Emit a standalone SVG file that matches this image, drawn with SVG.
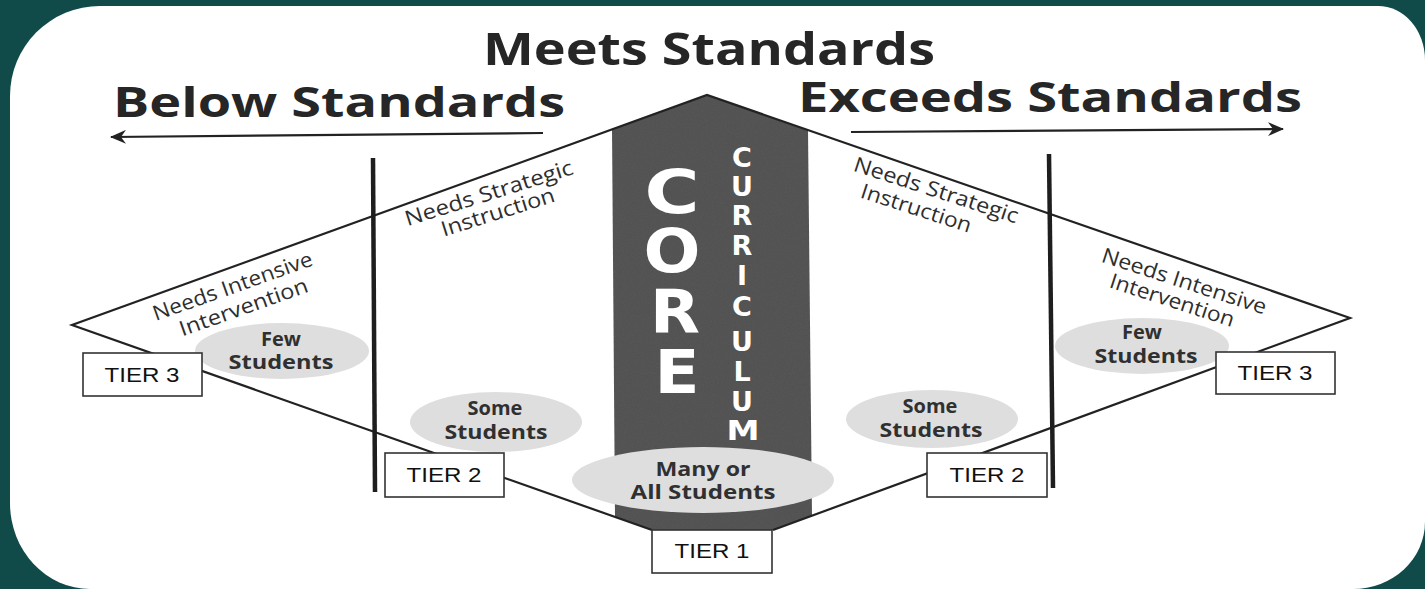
<svg xmlns="http://www.w3.org/2000/svg" width="1425" height="589" viewBox="0 0 1425 589">
<style>
.head{font-family:"Open Sans","Liberation Sans",sans-serif;font-weight:700;fill:#262626;text-anchor:middle}
.lbl{font-family:"Open Sans","Liberation Sans",sans-serif;font-size:21px;fill:#2e2e2e;text-anchor:middle}
.ell{fill:#dedede}
.etxt{font-family:"Open Sans","Liberation Sans",sans-serif;font-weight:700;font-size:20px;fill:#303030;text-anchor:middle}
.tier rect{fill:#fff;stroke:#333;stroke-width:1.6}
.tier text{font-family:"Liberation Sans","Open Sans",sans-serif;font-size:21px;fill:#111;text-anchor:middle}
.ln{stroke:#222;stroke-width:2.2;fill:none}
.vl{stroke:#1e1e1e;stroke-width:4.5;fill:none}
.core{font-family:"DejaVu Sans","Open Sans",sans-serif;font-weight:700;fill:#fff;text-anchor:middle}
</style>
<defs>
<marker id="ah" markerWidth="16" markerHeight="14" refX="15" refY="7" orient="auto" markerUnits="userSpaceOnUse" viewBox="0 0 16 14">
<path d="M0,0 L16,7 L0,14 L5,7 Z" fill="#222"/>
</marker>
<filter id="grain" x="0" y="0" width="100%" height="100%">
<feTurbulence type="fractalNoise" baseFrequency="0.9" numOctaves="2" seed="3" result="n"/>
<feColorMatrix in="n" type="matrix" values="0 0 0 0 0.5  0 0 0 0 0.5  0 0 0 0 0.5  0 0 0 0.35 0" result="g"/>
<feComposite in="g" in2="SourceGraphic" operator="in" result="gm"/>
<feBlend in="SourceGraphic" in2="gm" mode="multiply"/>
</filter>
</defs>
<rect x="0" y="0" width="1425" height="589" fill="#104b49"/>
<path d="M10,96 A90,90 0 0 1 100,6 L1378,6 A47,54 0 0 1 1425,60 L1425,522 A72,67 0 0 1 1353,589 L90,589 A80,86 0 0 1 10,503 Z" fill="#ffffff"/>

<g id="core-band">
<polygon points="612,129 707,95 808,130 812,516 773,530 652,530 615,517" fill="#575757" filter="url(#grain)"/>
<text class="core" x="672" y="213" font-size="60" textLength="55" lengthAdjust="spacingAndGlyphs">C</text>
<text class="core" x="672" y="272" font-size="60" textLength="57" lengthAdjust="spacingAndGlyphs">O</text>
<text class="core" x="675" y="333" font-size="60" textLength="50" lengthAdjust="spacingAndGlyphs">R</text>
<text class="core" x="677" y="393" font-size="60" textLength="45" lengthAdjust="spacingAndGlyphs">E</text>
<g class="core" font-size="27">
<text x="742" y="167">C</text>
<text x="742" y="196">U</text>
<text x="742" y="225">R</text>
<text x="742" y="255">R</text>
<text x="742" y="285">I</text>
<text x="742" y="316">C</text>
<text x="742" y="351">U</text>
<text x="742" y="381">L</text>
<text x="742" y="411">U</text>
<text x="743" y="440" textLength="33" lengthAdjust="spacingAndGlyphs">M</text>
</g>
</g>

<g id="connectors">
<polyline class="ln" points="652,530 72,325 707,95 1350,318 773,530"/>
<line class="ln" x1="543" y1="133" x2="111" y2="137" stroke-width="2.8" marker-end="url(#ah)"/>
<line class="ln" x1="851" y1="132" x2="1283" y2="129" stroke-width="2.8" marker-end="url(#ah)"/>
<line class="vl" x1="373" y1="158" x2="375" y2="492"/>
<line class="vl" x1="1049" y1="154" x2="1053" y2="488"/>
</g>

<g id="headings">
<text class="head" x="709" y="65" font-size="44" textLength="452" lengthAdjust="spacingAndGlyphs">Meets Standards</text>
<text class="head" x="339" y="117" font-size="42" textLength="452" lengthAdjust="spacingAndGlyphs">Below Standards</text>
<text class="head" x="1050" y="112" font-size="42" textLength="504" lengthAdjust="spacingAndGlyphs">Exceeds Standards</text>
</g>

<g id="zone-labels">
<g transform="translate(235,293) rotate(-19.5)"><text class="lbl" x="0" y="0" textLength="168" lengthAdjust="spacingAndGlyphs">Needs Intensive</text></g>
<g transform="translate(246,314) rotate(-19.5)"><text class="lbl" x="0" y="0" textLength="135" lengthAdjust="spacingAndGlyphs">Intervention</text></g>
<g transform="translate(491,200) rotate(-17.5)"><text class="lbl" x="0" y="0" textLength="175" lengthAdjust="spacingAndGlyphs">Needs Strategic</text></g>
<g transform="translate(500,219) rotate(-17.5)"><text class="lbl" x="0" y="0" textLength="118" lengthAdjust="spacingAndGlyphs">Instruction</text></g>
<g transform="translate(934,197) rotate(18)"><text class="lbl" x="0" y="0" textLength="172" lengthAdjust="spacingAndGlyphs">Needs Strategic</text></g>
<g transform="translate(914,215) rotate(18)"><text class="lbl" x="0" y="0" textLength="115" lengthAdjust="spacingAndGlyphs">Instruction</text></g>
<g transform="translate(1182,288) rotate(18)"><text class="lbl" x="0" y="0" textLength="172" lengthAdjust="spacingAndGlyphs">Needs Intensive</text></g>
<g transform="translate(1170,307) rotate(18)"><text class="lbl" x="0" y="0" textLength="130" lengthAdjust="spacingAndGlyphs">Intervention</text></g>
</g>

<g id="few-left">
<ellipse class="ell" cx="282" cy="351" rx="87" ry="28"/>
<text class="etxt" x="281" y="346">Few</text>
<text class="etxt" x="281" y="369" textLength="105" lengthAdjust="spacingAndGlyphs">Students</text>
</g>
<g id="some-left">
<ellipse class="ell" cx="496" cy="422" rx="86" ry="30"/>
<text class="etxt" x="495" y="415">Some</text>
<text class="etxt" x="496" y="439" textLength="103" lengthAdjust="spacingAndGlyphs">Students</text>
</g>
<g id="many-all">
<ellipse class="ell" cx="703" cy="480" rx="131" ry="33"/>
<text class="etxt" x="703" y="476" textLength="95" lengthAdjust="spacingAndGlyphs">Many or</text>
<text class="etxt" x="703" y="499" textLength="145" lengthAdjust="spacingAndGlyphs">All Students</text>
</g>
<g id="some-right">
<ellipse class="ell" cx="932" cy="419" rx="86" ry="29"/>
<text class="etxt" x="930" y="413">Some</text>
<text class="etxt" x="931" y="437" textLength="103" lengthAdjust="spacingAndGlyphs">Students</text>
</g>
<g id="few-right">
<ellipse class="ell" cx="1142" cy="346" rx="87" ry="28"/>
<text class="etxt" x="1142" y="339">Few</text>
<text class="etxt" x="1146" y="363" textLength="103" lengthAdjust="spacingAndGlyphs">Students</text>
</g>

<g id="tier3-left" class="tier"><rect x="83" y="353" width="119" height="43"/><text x="142" y="382" textLength="75" lengthAdjust="spacingAndGlyphs">TIER 3</text></g>
<g id="tier2-left" class="tier"><rect x="385" y="453" width="119" height="44"/><text x="444" y="482" textLength="75" lengthAdjust="spacingAndGlyphs">TIER 2</text></g>
<g id="tier1" class="tier"><rect x="652" y="530" width="120" height="43"/><text x="712" y="558" textLength="75" lengthAdjust="spacingAndGlyphs">TIER 1</text></g>
<g id="tier2-right" class="tier"><rect x="927" y="453" width="120" height="44"/><text x="987" y="482" textLength="75" lengthAdjust="spacingAndGlyphs">TIER 2</text></g>
<g id="tier3-right" class="tier"><rect x="1216" y="352" width="119" height="42"/><text x="1275" y="380" textLength="75" lengthAdjust="spacingAndGlyphs">TIER 3</text></g>
</svg>
